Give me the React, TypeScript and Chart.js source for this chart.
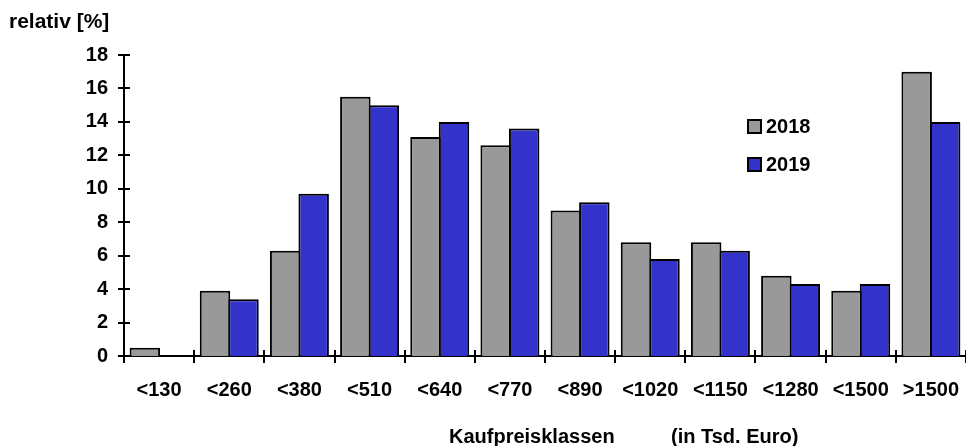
import React, { useEffect, useRef } from "react";
import { Chart, registerables } from "chart.js";

Chart.register(...registerables);

const categories = ["<130", "<260", "<380", "<510", "<640", "<770", "<890", "<1020", "<1150", "<1280", "<1500", ">1500"];
const values2018 = [0.5, 3.9, 6.3, 15.5, 13.1, 12.6, 8.7, 6.8, 6.8, 4.8, 3.9, 17.0];
const values2019 = [0, 3.4, 9.7, 15.0, 14.0, 13.6, 9.2, 5.8, 6.3, 4.3, 4.3, 14.0];
const seriesLabels = ["2018", "2019"];
const yMin = 0;
const yMax = 18;
const yStep = 2;
const yTitle = "relativ [%]";
const xTitleMain = "Kaufpreisklassen";
const xTitleUnit = "(in Tsd. Euro)";

const FONT = "'Liberation Sans', Arial, sans-serif";
const GRAY = "#999999";
const BLUE = "#3333CC";

const decorPlugin = {
  id: "decor",
  afterDraw(chart: any) {
    const ctx = chart.ctx;
    const x = chart.scales.x;
    const y = chart.scales.y;
    const area = chart.chartArea;
    ctx.save();
    ctx.strokeStyle = "#000";
    ctx.lineWidth = 2;
    for (let v = yMin; v <= yMax; v += yStep) {
      const py = Math.round(y.getPixelForValue(v));
      ctx.beginPath();
      ctx.moveTo(area.left - 6, py);
      ctx.lineTo(area.left + 6, py);
      ctx.stroke();
    }
    const half = (x.getPixelForValue(1) - x.getPixelForValue(0)) / 2;
    for (let i = 0; i <= categories.length; i++) {
      const px = Math.round(x.getPixelForValue(i) - half);
      ctx.beginPath();
      ctx.moveTo(px, area.bottom - 6);
      ctx.lineTo(px, area.bottom + 7);
      ctx.stroke();
    }
    ctx.fillStyle = "#000";
    ctx.textBaseline = "middle";
    ctx.textAlign = "left";
    ctx.font = `bold 21px ${FONT}`;
    ctx.fillText(yTitle, 9, 22);
    ctx.font = `bold 20px ${FONT}`;
    ctx.fillText(xTitleMain, 449, 437);
    ctx.fillText(xTitleUnit, 671, 437);
    const colors = [GRAY, BLUE];
    const ys = [126, 164];
    seriesLabels.forEach((lab, i) => {
      ctx.fillStyle = colors[i];
      ctx.fillRect(748, ys[i] - 6, 13, 13);
      ctx.strokeRect(748, ys[i] - 6, 13, 13);
      ctx.fillStyle = "#000";
      ctx.fillText(lab, 766, ys[i] + 1);
    });
    ctx.restore();
  },
};

export default function App() {
  const ref = useRef<HTMLCanvasElement | null>(null);
  useEffect(() => {
    if (!ref.current) return;
    const common = {
      borderColor: "#000",
      borderWidth: 2,
      categoryPercentage: 0.812,
      barPercentage: 1.07,
    };
    const chart = new Chart(ref.current, {
      type: "bar",
      data: {
        labels: categories,
        datasets: [
          { label: seriesLabels[0], data: values2018, backgroundColor: GRAY, ...common },
          { label: seriesLabels[1], data: values2019, backgroundColor: BLUE, ...common },
        ],
      },
      options: {
        responsive: false,
        animation: false,
        layout: { padding: { top: 55, right: -2, bottom: 0, left: 0 } },
        plugins: {
          legend: { display: false },
          tooltip: { enabled: false },
          title: { display: false },
        },
        scales: {
          x: {
            grid: { display: false, drawTicks: false },
            border: { display: true, color: "#000", width: 2 },
            ticks: {
              color: "#000",
              font: { family: FONT, size: 20, weight: "bold" },
              padding: 22,
              maxRotation: 0,
              autoSkip: false,
            },
            afterFit(scale: any) {
              scale.height = 90;
              scale.paddingLeft = 0;
              scale.paddingRight = 0;
            },
          },
          y: {
            min: yMin,
            max: yMax,
            grid: { display: false, drawTicks: false },
            border: { display: true, color: "#000", width: 2 },
            ticks: {
              stepSize: yStep,
              color: "#000",
              font: { family: FONT, size: 20, weight: "bold" },
              padding: 16,
            },
            afterFit(scale: any) {
              scale.width = 124;
            },
          },
        },
      },
      plugins: [decorPlugin],
    });
    return () => chart.destroy();
  }, []);
  return (
    <div style={{ position: "fixed", left: 0, top: 0, width: 966, height: 446, background: "#fff" }}>
      <canvas ref={ref} width={966} height={446} />
    </div>
  );
}
